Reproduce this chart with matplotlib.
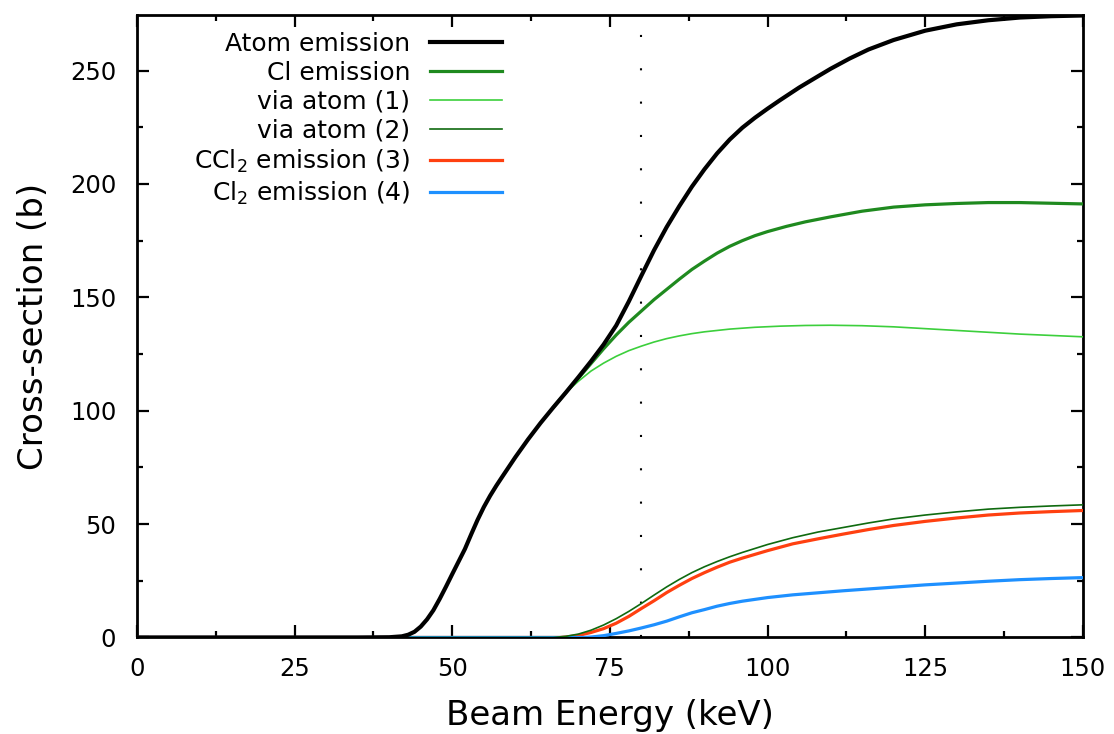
import matplotlib
matplotlib.use("Agg")
import matplotlib.pyplot as plt
from matplotlib.ticker import MultipleLocator

# ---- data (beam energy in keV, cross-section in b) ----
atom_x = [0, 35, 40, 42, 43, 44, 45, 46, 47, 48, 49, 50, 51, 52, 53, 54, 55, 56,
          57, 58, 60, 62, 64, 66, 68, 70, 72, 74, 76, 78, 80, 82, 84, 86, 88, 90,
          92, 94, 96, 98, 100, 102, 105, 108, 110, 113, 116, 120, 125, 130, 135,
          140, 145, 150]
atom_y = [0, 0, 0.1, 0.5, 1.2, 2.5, 4.8, 8, 12, 17, 22.4, 28, 33.5, 39, 45.5, 51.8,
          57.5, 62.5, 67, 71.2, 79.5, 87.3, 94.6, 101.4, 108, 114.8, 121.8, 129.2,
          137.6, 148.2, 159.6, 170.8, 181, 190.2, 198.8, 206.5, 213.5, 219.6,
          224.8, 229.2, 233.2, 237, 242.5, 247.5, 250.8, 255.3, 259.3, 263.5,
          267.6, 270.4, 272.2, 273.4, 274, 274.3]

cl_x = [66, 68, 70, 72, 74, 76, 78, 80, 82, 84, 86, 88, 90, 92, 94, 96, 98, 100,
        103, 106, 110, 115, 120, 125, 130, 135, 140, 145, 150]
cl_y = [101.4, 108, 114.3, 120.8, 127.3, 133.4, 139, 144, 149, 153.5, 158, 162.3,
        166, 169.5, 172.5, 175, 177.2, 179, 181.3, 183.3, 185.5, 188, 189.8,
        190.8, 191.4, 191.8, 191.8, 191.5, 191.2]

via1_x = [66, 68, 70, 72, 74, 76, 78, 80, 82, 84, 86, 88, 90, 94, 98, 102, 106,
          110, 115, 120, 125, 130, 135, 140, 145, 150]
via1_y = [101.4, 108, 113, 117.5, 121, 124, 126.5, 128.5, 130.3, 131.8, 133, 134,
          134.8, 136, 136.8, 137.3, 137.6, 137.7, 137.5, 137, 136.2, 135.4, 134.6,
          133.8, 133.2, 132.6]

via2_x = [0, 66, 68, 70, 72, 74, 76, 78, 80, 82, 84, 86, 88, 90, 92, 94, 96, 100,
          104, 108, 112, 116, 120, 125, 130, 135, 140, 145, 150]
via2_y = [0, 0, 0.5, 1.5, 3.2, 5.5, 8.3, 11.5, 15, 18.7, 22.3, 25.6, 28.6, 31.2,
          33.5, 35.6, 37.5, 41, 44, 46.5, 48.5, 50.5, 52.3, 54, 55.4, 56.6, 57.4,
          58, 58.5]

ccl2_x = [0, 67, 68, 70, 72, 74, 76, 78, 80, 82, 84, 86, 88, 90, 92, 94, 96, 100,
          104, 108, 112, 116, 120, 125, 130, 135, 140, 145, 150]
ccl2_y = [0, 0, 0.2, 0.9, 2.2, 3.9, 6.3, 9.3, 12.8, 16.2, 19.8, 23, 26, 28.6, 31,
          33.2, 35, 38.3, 41.3, 43.5, 45.6, 47.6, 49.4, 51.2, 52.7, 54, 54.9, 55.5,
          56]

cl2_x = [0, 71, 72, 74, 76, 78, 80, 82, 84, 86, 88, 90, 92, 94, 96, 100, 104, 108,
         112, 116, 120, 125, 130, 135, 140, 145, 150]
cl2_y = [0, 0, 0.2, 0.8, 1.8, 2.9, 4.2, 5.6, 7.2, 9.1, 10.9, 12.3, 13.8, 15, 16,
         17.6, 18.8, 19.7, 20.6, 21.4, 22.2, 23.2, 24, 24.8, 25.5, 26, 26.4]

threshold = 80

plt.rcParams['font.family'] = ['DejaVu Sans']

fig = plt.figure(figsize=(11.14, 7.34), dpi=100)
ax = fig.add_axes([0.123, 0.1315, 0.849, 0.848])

ax.axvline(threshold, color='black', lw=1.5, ls=(0, (1, 15)), zorder=1)

ax.plot(cl_x, cl_y, color='#1f8a1f', lw=2.3, label='Cl emission', zorder=3)
ax.plot(via1_x, via1_y, color='#3ccf3c', lw=1.2, label='via atom (1)', zorder=3)
ax.plot(via2_x, via2_y, color='#0f6a0f', lw=1.2, label='via atom (2)', zorder=4)
ax.plot(ccl2_x, ccl2_y, color='#ff4010', lw=2.3, label='CCl$_2$ emission (3)', zorder=3)
ax.plot(cl2_x, cl2_y, color='#1e90ff', lw=2.3, label='Cl$_2$ emission (4)', zorder=3)
ax.plot(atom_x, atom_y, color='black', lw=3, label='Atom emission', zorder=5)

ax.set_xlim(0, 150)
ax.set_ylim(0, 274.5)
ax.xaxis.set_major_locator(MultipleLocator(25))
ax.xaxis.set_minor_locator(MultipleLocator(12.5))
ax.yaxis.set_major_locator(MultipleLocator(50))
ax.yaxis.set_minor_locator(MultipleLocator(25))
ax.tick_params(which='both', direction='in', top=True, right=True, width=1.6,
               labelsize=17.5)
ax.tick_params(which='major', length=8.5)
ax.tick_params(which='minor', length=4.5)
ax.tick_params(axis='x', pad=14)
ax.tick_params(axis='y', pad=15)
for sp in ax.spines.values():
    sp.set_linewidth(2)

ax.set_xlabel('Beam Energy (keV)', fontsize=24.5)
ax.set_ylabel('Cross-section (b)', fontsize=24.5)
ax.xaxis.set_label_coords(0.5, -0.099)
ax.yaxis.set_label_coords(-0.092, 0.5)

# legend order as in the reference
handles, labels = ax.get_legend_handles_labels()
order = ['Atom emission', 'Cl emission', 'via atom (1)', 'via atom (2)',
         'CCl$_2$ emission (3)', 'Cl$_2$ emission (4)']
hmap = dict(zip(labels, handles))
ax.legend([hmap[l] for l in order], order, loc='upper right',
          bbox_to_anchor=(0.386, 0.973), frameon=False, markerfirst=False,
          fontsize=18, handlelength=2.88, handletextpad=0.8, labelspacing=0.2,
          borderpad=0, borderaxespad=0)

fig.savefig('out.png', dpi=100)
